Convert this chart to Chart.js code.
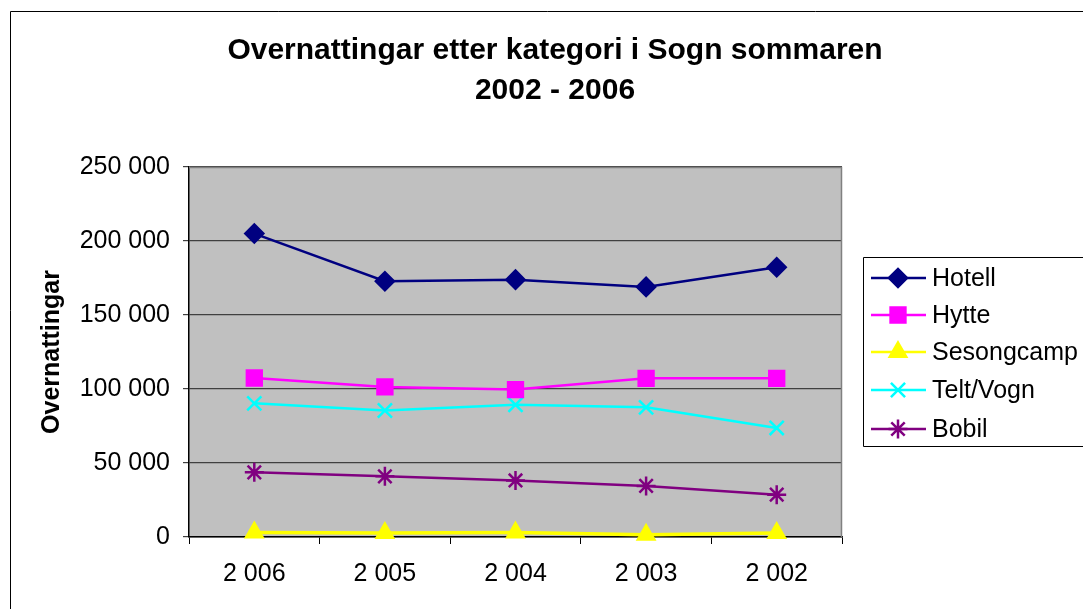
<!DOCTYPE html>
<html>
<head>
<meta charset="utf-8">
<script src="https://cdn.jsdelivr.net/npm/chart.js@4/dist/chart.umd.min.js"></script>
<style>
  html, body { margin: 0; padding: 0; background: #fff; overflow: hidden; }
  #wrap { width: 1083px; height: 609px; position: relative; }
</style>
</head>
<body>
<div id="wrap"><canvas id="myChart" width="1083" height="609"></canvas></div>
<script>
// data
const years = ["2 006", "2 005", "2 004", "2 003", "2 002"];
const hotell = [205000, 172800, 173900, 169000, 182200];
const hytte = [107400, 101400, 99600, 107200, 107200];
const sesongcamp = [3100, 2700, 3000, 1500, 2700];
const teltVogn = [90300, 85500, 89400, 87600, 73700];
const bobil = [43700, 41000, 38200, 34500, 28600];
const yTicks = [0, 50000, 100000, 150000, 200000, 250000];

const FONT = "'Liberation Sans', Arial, sans-serif";

function fmt(v) {
  return String(v).replace(/\B(?=(\d{3})+(?!\d))/g, " ");
}

const series = [
  { label: "Hotell", data: hotell, color: "#000080", style: "rectRot", r: 9 },
  { label: "Hytte", data: hytte, color: "#FF00FF", style: "rect", r: 10.5 },
  { label: "Sesongcamp", data: sesongcamp, color: "#FFFF00", style: "triangle", r: 9.5 },
  { label: "Telt/Vogn", data: teltVogn, color: "#00FFFF", style: "crossRot", r: 10 },
  { label: "Bobil", data: bobil, color: "#800080", style: "star", r: 9.5 },
];

// grey plot area + frame, title, legend
const decor = {
  id: "decor",
  beforeDraw(chart) {
    const { ctx, chartArea: a } = chart;
    ctx.save();
    ctx.fillStyle = "#fff";
    ctx.fillRect(0, 0, chart.width, chart.height);
    ctx.fillStyle = "#C0C0C0";
    ctx.fillRect(a.left, a.top, a.right - a.left, a.bottom - a.top);
    // outer frame (only left/top visible in the crop)
    ctx.strokeStyle = "#000";
    ctx.lineWidth = 1;
    ctx.beginPath();
    ctx.moveTo(10.5, chart.height + 5);
    ctx.lineTo(10.5, 11.5);
    ctx.lineTo(chart.width + 5, 11.5);
    ctx.stroke();
    ctx.restore();
  },
  afterDatasetsDraw(chart) {
    const { ctx, chartArea: a } = chart;
    ctx.save();
    ctx.strokeStyle = "#808080";
    ctx.lineWidth = 1.5;
    ctx.beginPath();
    ctx.moveTo(a.left, a.top + 0.5);
    ctx.lineTo(a.right - 0.5, a.top + 0.5);
    ctx.lineTo(a.right - 0.5, a.bottom);
    ctx.stroke();

    // title
    ctx.fillStyle = "#000";
    ctx.font = "bold 30px " + FONT;
    ctx.textAlign = "center";
    ctx.textBaseline = "middle";
    ctx.fillText("Overnattingar etter kategori i Sogn sommaren", 555, 51);
    ctx.fillText("2002 - 2006", 555, 91);

    // legend box, cut off on the right like the reference
    ctx.strokeStyle = "#000";
    ctx.lineWidth = 1;
    ctx.beginPath();
    ctx.moveTo(chart.width + 5, 257.5);
    ctx.lineTo(863.5, 257.5);
    ctx.lineTo(863.5, 446.5);
    ctx.lineTo(chart.width + 5, 446.5);
    ctx.stroke();
    const ys = [278, 315, 352, 390, 429];
    ctx.font = "25px " + FONT;
    ctx.textAlign = "left";
    series.forEach((s, i) => {
      const y = ys[i];
      ctx.strokeStyle = s.color;
      ctx.lineWidth = 2.5;
      ctx.beginPath();
      ctx.moveTo(871, y);
      ctx.lineTo(926, y);
      ctx.stroke();
      ctx.fillStyle = s.color;
      Chart.helpers.drawPoint(ctx, { pointStyle: s.style, radius: s.r, rotation: 0, borderWidth: 2.5 }, 898, y);
      ctx.fillStyle = "#000";
      ctx.fillText(s.label, 932, y + 1);
    });
    ctx.restore();
  },
};

const ctx = document.getElementById("myChart").getContext("2d");
const myChart = new Chart(ctx, {
  type: "line",
  data: {
    labels: years,
    datasets: series.map((s) => ({
      label: s.label,
      data: s.data,
      borderColor: s.color,
      backgroundColor: s.color,
      borderWidth: s.label === "Sesongcamp" ? 3.5 : 2.5,
      pointStyle: s.style,
      pointRadius: s.r,
      pointBorderWidth: 2.5,
      pointHoverRadius: s.r,
      tension: 0,
      fill: false,
      clip: false,
    })),
  },
  options: {
    responsive: false,
    animation: false,
    layout: { padding: { left: 0, top: 167, right: 241, bottom: 0 } },
    scales: {
      x: {
        offset: true,
        grid: {
          offset: true,
          drawOnChartArea: false,
          drawTicks: true,
          tickLength: 7,
          color: "#000",
        },
        border: { color: "#000", width: 1.5 },
        ticks: { color: "#000", font: { family: FONT, size: 25 }, padding: 15, maxRotation: 0 },
        afterFit(scale) { scale.height = 72; },
      },
      y: {
        min: 0,
        max: 250000,
        afterBuildTicks(scale) { scale.ticks = yTicks.map((v) => ({ value: v })); },
        grid: { color: "#404040", lineWidth: 1.2, tickLength: 6, drawTicks: true },
        border: { color: "#000", width: 1.5 },
        ticks: { color: "#000", font: { family: FONT, size: 25 }, padding: 13, callback: (v) => fmt(v) },
        title: {
          display: true,
          text: "Overnattingar",
          color: "#000",
          font: { family: FONT, size: 25, weight: "bold" },
          padding: { top: 37, bottom: 0 },
        },
        afterFit(scale) { scale.width = 189; },
      },
    },
    plugins: {
      legend: { display: false },
      title: { display: false },
      tooltip: { enabled: false },
    },
  },
  plugins: [decor],
});
</script>
</body>
</html>
